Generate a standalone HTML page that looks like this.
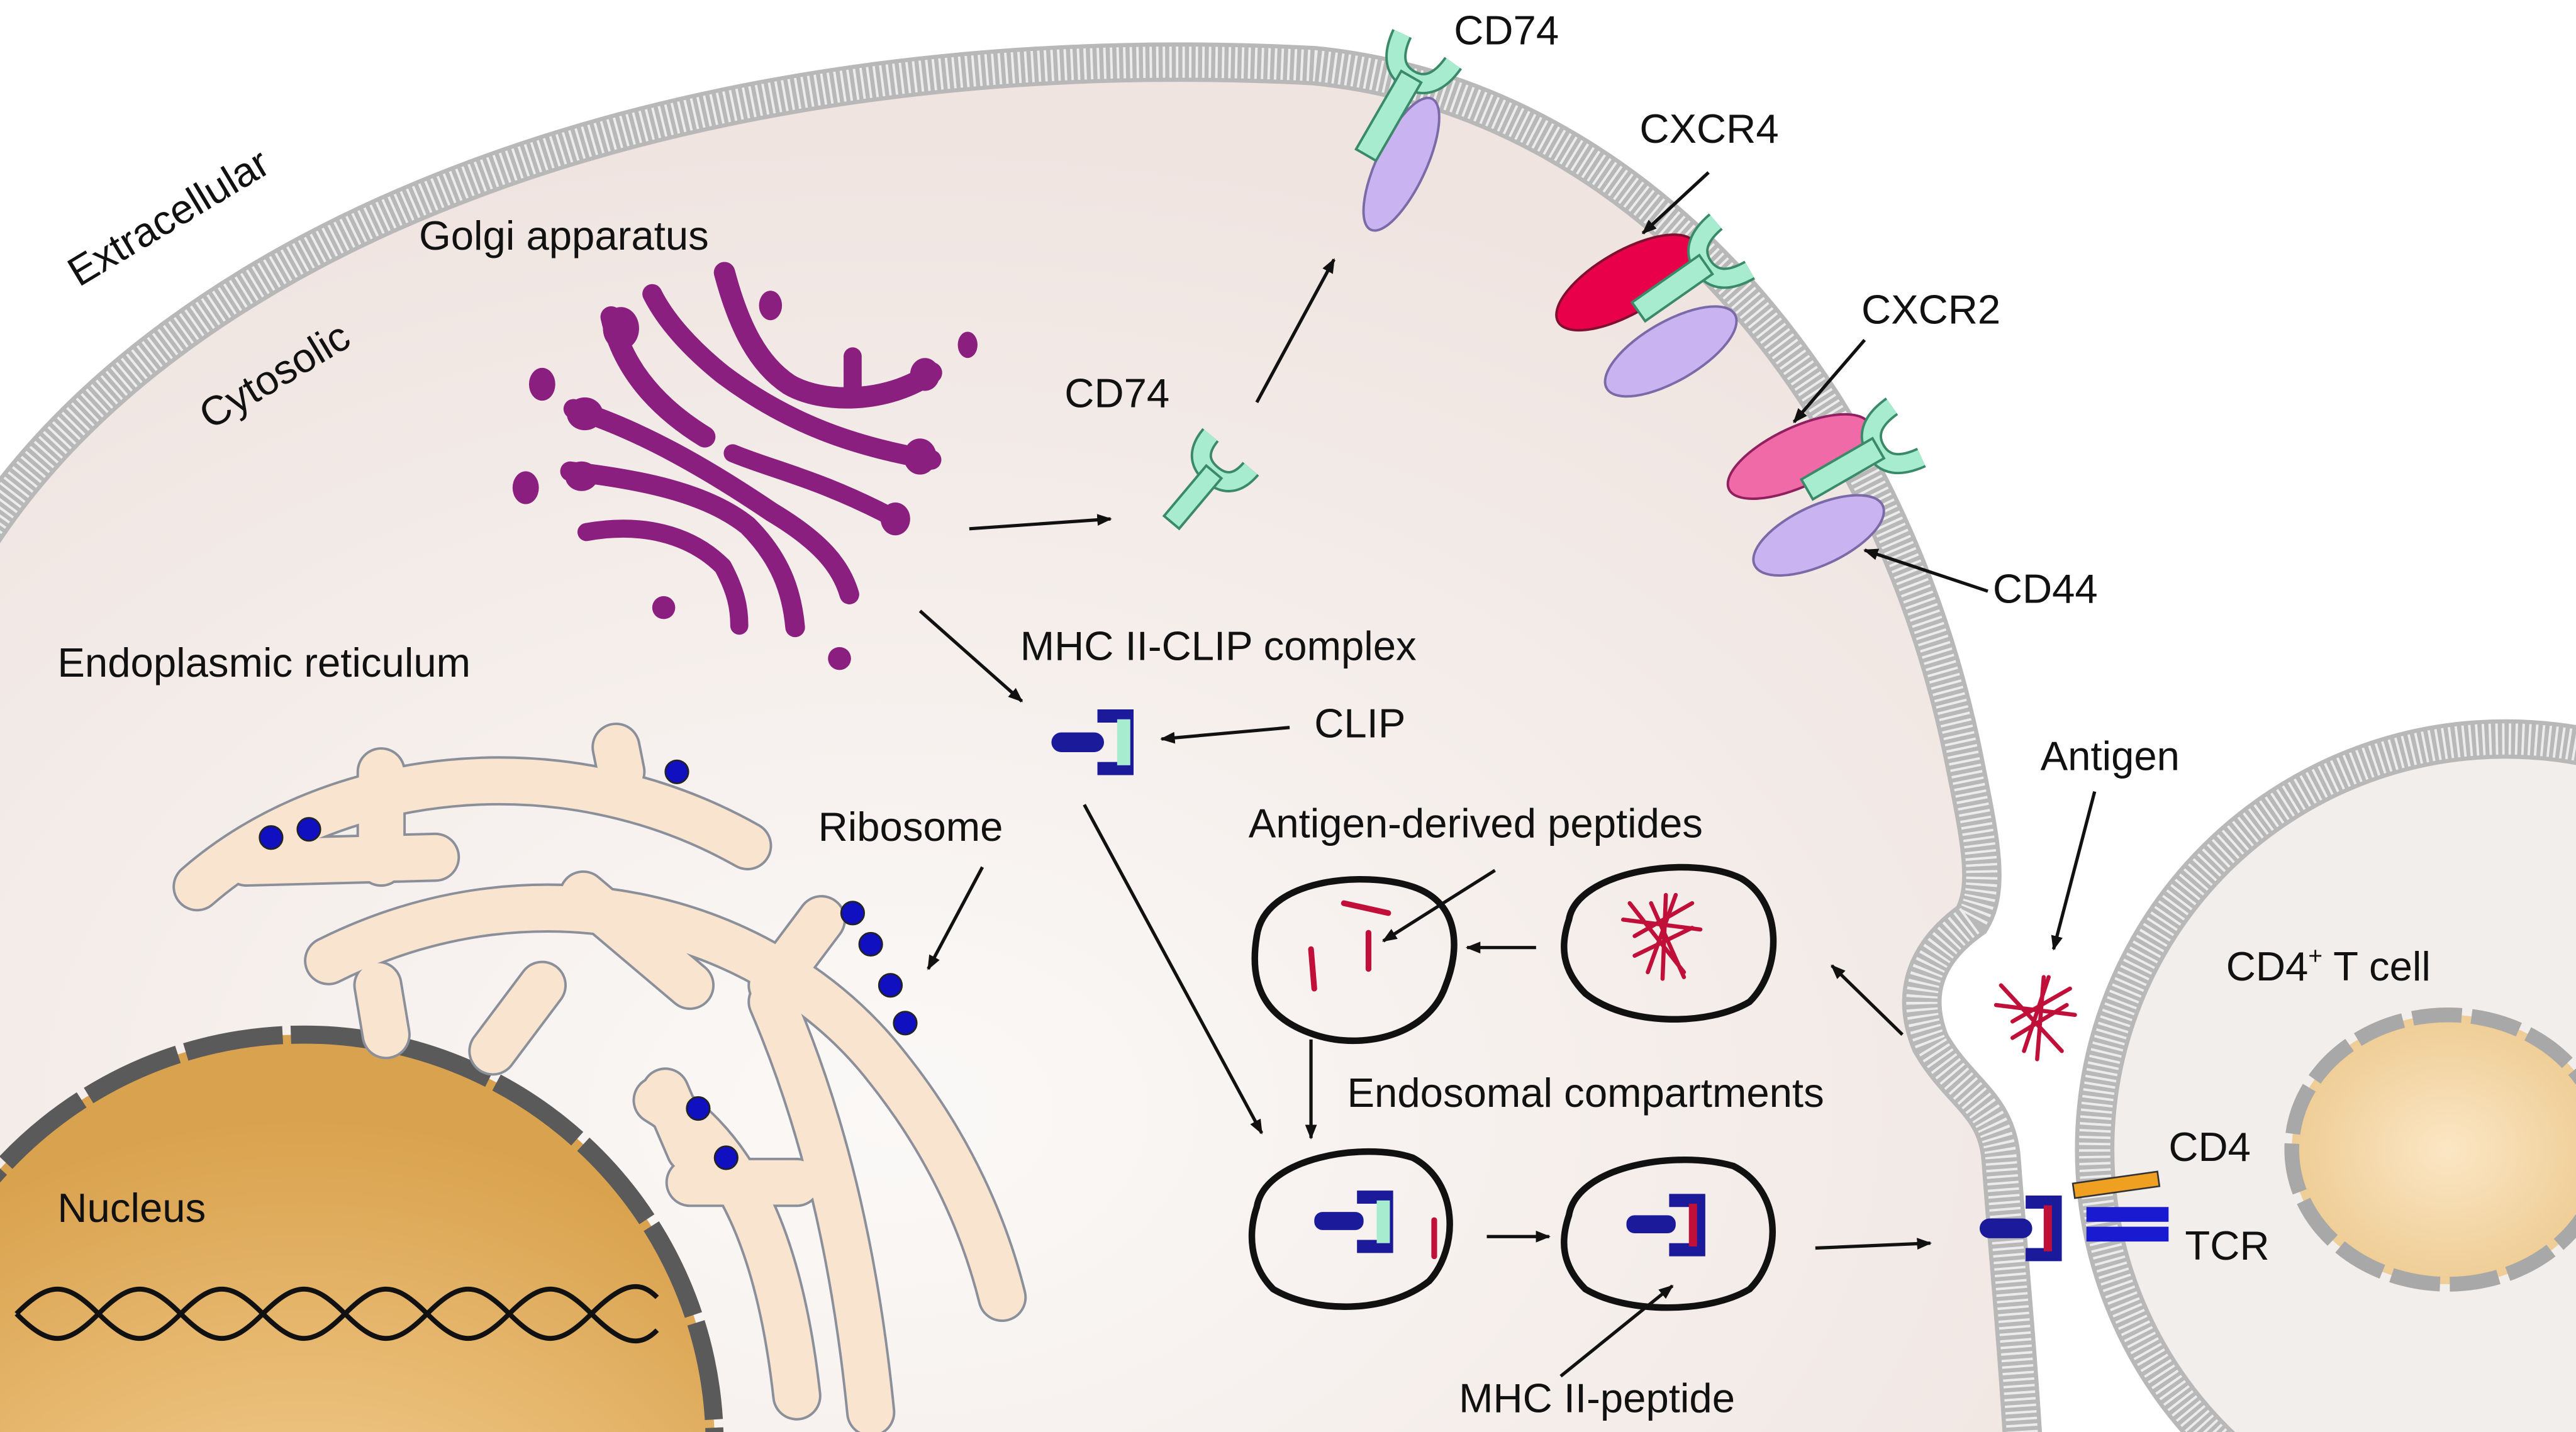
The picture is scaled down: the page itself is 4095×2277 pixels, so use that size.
<!DOCTYPE html>
<html><head><meta charset="utf-8">
<style>
html,body{margin:0;padding:0;background:#fff;width:4095px;height:2277px;overflow:hidden;}
svg{display:block;}
text{font-family:"Liberation Sans",Arial,sans-serif;fill:#111;}
</style></head>
<body>
<svg width="4095" height="2277" viewBox="0 0 1568 872" preserveAspectRatio="none" xmlns="http://www.w3.org/2000/svg">
<defs>
<radialGradient id="cellg" cx="0.45" cy="0.75" r="0.7">
<stop offset="0" stop-color="#fbf9f7"/><stop offset="1" stop-color="#efe4e0"/>
</radialGradient>
<radialGradient id="nucg" cx="0.5" cy="0.9" r="0.8">
<stop offset="0" stop-color="#fff6e4"/><stop offset="0.4" stop-color="#f0c887"/><stop offset="1" stop-color="#d9a24e"/>
</radialGradient>
<radialGradient id="tnuc" cx="0.5" cy="0.5" r="0.6">
<stop offset="0" stop-color="#fbe6c4"/><stop offset="1" stop-color="#ecc88c"/>
</radialGradient>
<marker id="ah" viewBox="0 0 10 10" refX="9" refY="5" markerWidth="9" markerHeight="9" orient="auto" markerUnits="userSpaceOnUse">
<path d="M0,1 L10,5 L0,9 Z" fill="#111"/>
</marker>
</defs>
<rect width="1568" height="872" fill="#fff"/>

<!-- T cell -->
<circle cx="1525" cy="700" r="250" fill="#f1eeec"/>
<circle cx="1525" cy="700" r="250" fill="none" stroke="#b8b8b8" stroke-width="24"/>
<circle cx="1525" cy="700" r="250" fill="none" stroke="#ececec" stroke-width="19" stroke-dasharray="1.5 2.5"/>
<ellipse cx="1490" cy="700" rx="95" ry="82" fill="url(#tnuc)"/>
<ellipse cx="1490" cy="700" rx="95" ry="82" fill="none" stroke="#a8a8a8" stroke-width="9" stroke-dasharray="30 6"/>

<!-- main cell -->
<path d="M-20,340 C100,140 420,20 800,40 C1000,60 1150,240 1195,460 C1205,510 1212,540 1200,560 C1172,580 1163,605 1175,635 C1192,665 1215,672 1218,705 C1222,760 1228,820 1232,890 L-20,890 Z" fill="url(#cellg)"/>
<path d="M-20,340 C100,140 420,20 800,40 C1000,60 1150,240 1195,460 C1205,510 1212,540 1200,560 C1172,580 1163,605 1175,635 C1192,665 1215,672 1218,705 C1222,760 1228,820 1232,890" fill="none" stroke="#b8b8b8" stroke-width="24"/>
<path d="M-20,340 C100,140 420,20 800,40 C1000,60 1150,240 1195,460 C1205,510 1212,540 1200,560 C1172,580 1163,605 1175,635 C1192,665 1215,672 1218,705 C1222,760 1228,820 1232,890" fill="none" stroke="#ececec" stroke-width="19" stroke-dasharray="1.5 2.5"/>

<!-- nucleus -->
<circle cx="185" cy="880" r="250" fill="url(#nucg)"/>
<circle cx="185" cy="880" r="250" fill="none" stroke="#5a5a5a" stroke-width="11" stroke-dasharray="60 5"/>
<path d="M10,800 C30,780 40,780 60,800 S90,820 110,800 S140,780 160,800 S190,820 210,800 S240,780 260,800 S290,820 310,800 S340,780 360,800 S390,820 400,810" fill="none" stroke="#111" stroke-width="3"/>
<path d="M10,800 C30,820 40,820 60,800 S90,780 110,800 S140,820 160,800 S190,780 210,800 S240,820 260,800 S290,780 310,800 S340,820 360,800 S390,780 400,790" fill="none" stroke="#111" stroke-width="3"/>

<!-- ER -->
<g fill="none" stroke-linecap="round" stroke-linejoin="round">
<g stroke="#8a8f9a" stroke-width="30">
<path d="M120,540 C200,470 340,450 455,515"/>
<path d="M232,470 L232,525 M150,525 L265,522"/>
<path d="M375,455 L378,470"/>
<path d="M200,585 C330,520 470,560 540,650 C580,700 600,750 610,790"/>
<path d="M355,545 L420,600 M330,600 L300,640 M230,600 L235,630"/>
<path d="M400,670 C450,700 475,760 485,850"/>
<path d="M500,560 L470,600 M420,720 L485,720 M470,610 C500,680 520,760 530,860"/>
<path d="M405,665 L420,700"/>
</g>
<g stroke="#f8e4cf" stroke-width="27">
<path d="M120,540 C200,470 340,450 455,515"/>
<path d="M232,470 L232,525 M150,525 L265,522"/>
<path d="M375,455 L378,470"/>
<path d="M200,585 C330,520 470,560 540,650 C580,700 600,750 610,790"/>
<path d="M355,545 L420,600 M330,600 L300,640 M230,600 L235,630"/>
<path d="M400,670 C450,700 475,760 485,850"/>
<path d="M500,560 L470,600 M420,720 L485,720 M470,610 C500,680 520,760 530,860"/>
<path d="M405,665 L420,700"/>
</g>
</g>
<g fill="#1010c0" stroke="#222" stroke-width="1">
<circle cx="165" cy="510" r="7"/><circle cx="188" cy="505" r="7"/>
<circle cx="412" cy="470" r="7"/>
<circle cx="519" cy="556" r="7"/><circle cx="530" cy="575" r="7"/><circle cx="542" cy="600" r="7"/><circle cx="551" cy="623" r="7"/>
<circle cx="425" cy="675" r="7"/><circle cx="442" cy="705" r="7"/>
</g>

<!-- Golgi -->
<g fill="none" stroke="#8b1f7f" stroke-linecap="round" stroke-linejoin="round">
<path d="M441,166 C450,200 462,222 480,234 C500,246 540,246 567,227" stroke-width="13"/>
<path d="M519,217 L519,238" stroke-width="11"/>
<path d="M397,179 C405,195 420,212 440,228 C480,258 520,272 567,280" stroke-width="12"/>
<path d="M372,193 C378,220 395,245 429,266" stroke-width="13"/>
<path d="M349,249 C390,262 430,285 470,312 C500,330 512,345 517,362" stroke-width="12"/>
<path d="M446,276 C470,286 500,292 545,316" stroke-width="11"/>
<path d="M347,287 C390,292 430,300 455,320 C475,340 482,360 484,382" stroke-width="12"/>
<path d="M357,324 C390,318 420,325 440,345 C448,360 450,370 450,381" stroke-width="11"/>
</g>
<g fill="#8b1f7f">
<ellipse cx="378" cy="200" rx="11" ry="13"/>
<ellipse cx="356" cy="252" rx="11" ry="10"/>
<ellipse cx="354" cy="290" rx="10" ry="9"/>
<ellipse cx="560" cy="278" rx="10" ry="11"/>
<ellipse cx="563" cy="228" rx="9" ry="10"/>
<ellipse cx="545" cy="316" rx="9" ry="10"/>
<ellipse cx="469" cy="186" rx="7" ry="9"/><ellipse cx="589" cy="210" rx="6" ry="8"/>
<ellipse cx="330" cy="234" rx="8" ry="10"/><ellipse cx="320" cy="297" rx="8" ry="10"/>
<circle cx="404" cy="370" r="7"/><circle cx="511" cy="401" r="7"/>
</g>

<!-- CD74 cytosolic -->
<g transform="translate(735,292) rotate(40)">
<path d="M-16,-22 Q-16,-4 0,-4 Q16,-4 16,-22" fill="none" stroke="#3a8a6a" stroke-width="13"/>
<path d="M-16,-22 Q-16,-4 0,-4 Q16,-4 16,-22" fill="none" stroke="#a8ecd0" stroke-width="10"/>
<rect x="-6" y="-6" width="12" height="40" fill="#a8ecd0" stroke="#3a8a6a" stroke-width="1.5"/>
</g>
<!-- top CD74 -->
<ellipse cx="853" cy="100" rx="15" ry="44" transform="rotate(25 853 100)" fill="#c9b3f0" stroke="#7a6aa8" stroke-width="1.5"/>
<g transform="translate(860,45) rotate(30)">
<path d="M-18,-18 Q-16,4 0,4 Q16,4 18,-18" fill="none" stroke="#3a8a6a" stroke-width="13"/>
<path d="M-18,-18 Q-16,4 0,4 Q16,4 18,-18" fill="none" stroke="#a8ecd0" stroke-width="10"/>
<rect x="-7" y="2" width="14" height="55" fill="#a8ecd0" stroke="#3a8a6a" stroke-width="1.5"/>
</g>
<!-- CXCR4 group -->
<ellipse cx="990" cy="172" rx="48" ry="19" transform="rotate(-30 990 172)" fill="#e8004a" stroke="#801030" stroke-width="1.5"/>
<ellipse cx="1017" cy="214" rx="45" ry="18" transform="rotate(-30 1017 214)" fill="#c9b3f0" stroke="#7a6aa8" stroke-width="1.5"/>
<g transform="translate(1040,160) rotate(55)">
<path d="M-18,-18 Q-16,4 0,4 Q16,4 18,-18" fill="none" stroke="#3a8a6a" stroke-width="13"/>
<path d="M-18,-18 Q-16,4 0,4 Q16,4 18,-18" fill="none" stroke="#a8ecd0" stroke-width="10"/>
<rect x="-7" y="2" width="14" height="50" fill="#a8ecd0" stroke="#3a8a6a" stroke-width="1.5"/>
</g>
<!-- CXCR2 group -->
<ellipse cx="1095" cy="278" rx="47" ry="18" transform="rotate(-25 1095 278)" fill="#f06aa8" stroke="#902060" stroke-width="1.5"/>
<ellipse cx="1107" cy="326" rx="43" ry="18" transform="rotate(-25 1107 326)" fill="#c9b3f0" stroke="#7a6aa8" stroke-width="1.5"/>
<g transform="translate(1145,272) rotate(60)">
<path d="M-18,-18 Q-16,4 0,4 Q16,4 18,-18" fill="none" stroke="#3a8a6a" stroke-width="13"/>
<path d="M-18,-18 Q-16,4 0,4 Q16,4 18,-18" fill="none" stroke="#a8ecd0" stroke-width="10"/>
<rect x="-7" y="2" width="14" height="50" fill="#a8ecd0" stroke="#3a8a6a" stroke-width="1.5"/>
</g>

<!-- MHC II-CLIP -->
<g>
<rect x="640" y="446" width="32" height="12" rx="6" fill="#1a1a9a"/>
<path d="M668,432 h22 v40 h-22 v-8 h14 v-24 h-14 z" fill="#1a1a9a"/>
<rect x="680" y="438" width="8" height="28" fill="#a8ecd0"/>
</g>

<!-- endosomes -->
<g fill="none" stroke="#111" stroke-width="4">
<path d="M765,570 C770,535 830,530 860,540 C890,550 888,580 880,600 C870,630 830,640 800,630 C770,620 760,600 765,570 Z"/>
<path d="M955,560 C960,530 1030,520 1060,535 C1085,550 1085,590 1065,610 C1040,625 990,625 965,605 C950,590 950,575 955,560 Z"/>
<path d="M765,735 C770,705 830,695 860,705 C888,720 888,760 870,780 C845,800 800,800 775,785 C760,770 760,750 765,735 Z"/>
<path d="M955,740 C960,710 1020,700 1055,710 C1085,725 1085,765 1065,785 C1040,800 990,800 965,785 C950,770 950,755 955,740 Z"/>
</g>
<g stroke="#c0103a" stroke-width="3.5" stroke-linecap="round">
<line x1="818" y1="550" x2="845" y2="556"/><line x1="798" y1="578" x2="800" y2="602"/><line x1="833" y1="568" x2="833" y2="590"/>
<line x1="873" y1="743" x2="873" y2="765"/>
</g>
<g stroke="#c0103a" stroke-width="2.5" fill="none" stroke-linecap="round">
<path d="M992,550 L1025,592 M995,570 L1030,550 M1003,592 L1020,545 M988,560 L1035,566 M1012,596 L1014,545 M995,582 L1030,565 M1005,550 L1025,595"/>
<path d="M1218,600 L1255,640 M1225,622 L1260,602 M1232,640 L1247,595 M1215,612 L1263,618 M1240,645 L1244,595 M1225,632 L1258,612"/>
</g>
<!-- MHC in endosomes -->
<g>
<rect x="800" y="738" width="30" height="11" rx="5" fill="#1a1a9a"/>
<path d="M826,725 h22 v38 h-22 v-8 h14 v-22 h-14 z" fill="#1a1a9a"/>
<rect x="838" y="731" width="8" height="26" fill="#a8ecd0"/>
</g>
<g>
<rect x="990" y="740" width="30" height="11" rx="5" fill="#1a1a9a"/>
<path d="M1016,727 h22 v38 h-22 v-8 h14 v-22 h-14 z" fill="#1a1a9a"/>
<rect x="1028" y="733" width="5" height="26" fill="#c0103a"/>
</g>
<!-- presenting MHC + TCR -->
<g>
<rect x="1205" y="742" width="32" height="12" rx="6" fill="#1a1a9a"/>
<path d="M1233,728 h22 v40 h-22 v-8 h14 v-24 h-14 z" fill="#1a1a9a"/>
<rect x="1244" y="734" width="5" height="28" fill="#c0103a"/>
</g>
<rect x="1262" y="717" width="52" height="9" fill="#f0a020" stroke="#333" stroke-width="1" transform="rotate(-8 1288 721)"/>
<rect x="1270" y="735" width="50" height="9" fill="#1a1ad0"/>
<rect x="1270" y="747" width="50" height="9" fill="#1a1ad0"/>

<!-- arrows -->
<g stroke="#111" stroke-width="2" marker-end="url(#ah)">
<line x1="590" y1="322" x2="676" y2="316"/>
<line x1="765" y1="245" x2="812" y2="158"/>
<line x1="560" y1="372" x2="622" y2="427"/>
<line x1="785" y1="443" x2="707" y2="450"/>
<line x1="660" y1="490" x2="768" y2="690"/>
<line x1="798" y1="633" x2="798" y2="693"/>
<line x1="935" y1="577" x2="893" y2="577"/>
<line x1="1158" y1="630" x2="1115" y2="588"/>
<line x1="1105" y1="760" x2="1175" y2="757"/>
<line x1="905" y1="753" x2="943" y2="753"/>
<line x1="950" y1="838" x2="1018" y2="783"/>
<line x1="598" y1="528" x2="565" y2="590"/>
<line x1="910" y1="530" x2="842" y2="573"/>
<line x1="1040" y1="105" x2="1000" y2="142"/>
<line x1="1135" y1="207" x2="1092" y2="257"/>
<line x1="1210" y1="360" x2="1135" y2="335"/>
<line x1="1275" y1="482" x2="1250" y2="578"/>
</g>

<!-- labels -->
<g font-size="25">
<text x="48" y="175" transform="rotate(-31 48 175)">Extracellular</text>
<text x="128" y="262" transform="rotate(-31 128 262)">Cytosolic</text>
<text x="255" y="152">Golgi apparatus</text>
<text x="35" y="412">Endoplasmic reticulum</text>
<text x="498" y="512">Ribosome</text>
<text x="35" y="744">Nucleus</text>
<text x="885" y="27">CD74</text>
<text x="648" y="248">CD74</text>
<text x="998" y="87">CXCR4</text>
<text x="1133" y="197">CXCR2</text>
<text x="1213" y="367">CD44</text>
<text x="621" y="402">MHC II-CLIP complex</text>
<text x="800" y="449">CLIP</text>
<text x="1242" y="469">Antigen</text>
<text x="760" y="510">Antigen-derived peptides</text>
<text x="820" y="674">Endosomal compartments</text>
<text x="1355" y="597">CD4<tspan font-size="15" dy="-10">+</tspan><tspan dy="10"> T cell</tspan></text>
<text x="1320" y="707">CD4</text>
<text x="1330" y="767">TCR</text>
<text x="888" y="860">MHC II-peptide</text>
</g>
</svg>
</body></html>
